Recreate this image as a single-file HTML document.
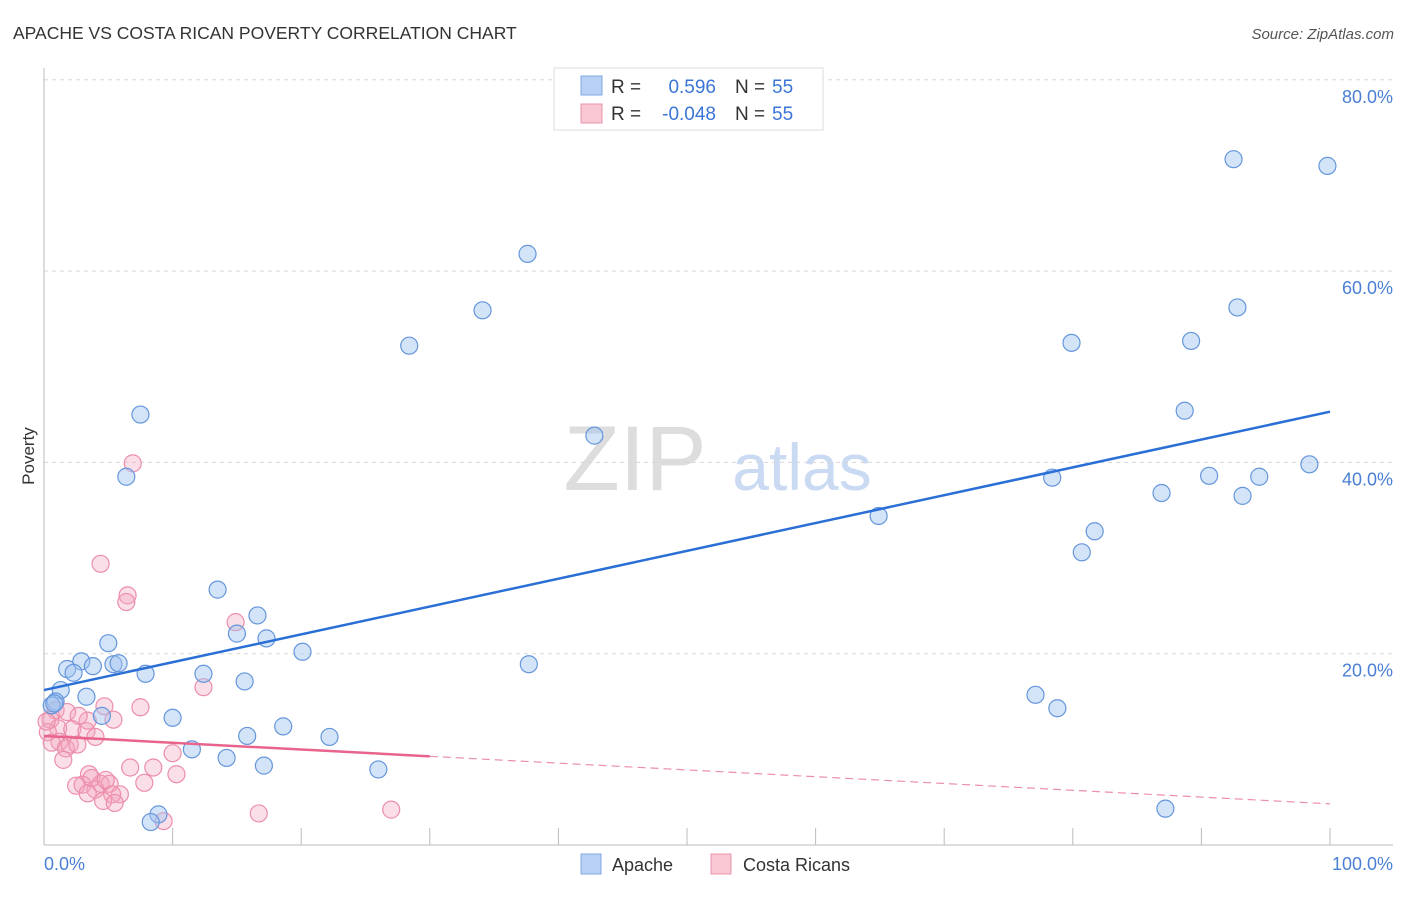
<!DOCTYPE html>
<html><head><meta charset="utf-8"><style>
body{margin:0;background:#fff;}
svg text{font-family:"Liberation Sans",sans-serif;}
</style></head><body>
<svg id="chart" width="1406" height="892" viewBox="0 0 1406 892" xmlns="http://www.w3.org/2000/svg">
<text x="13" y="39" font-size="17.5" fill="#333">APACHE VS COSTA RICAN POVERTY CORRELATION CHART</text>
<text x="1394" y="39" font-size="15" fill="#555" font-style="italic" text-anchor="end">Source: ZipAtlas.com</text>
<text x="34" y="456" font-size="17" fill="#333" transform="rotate(-90 34 456)" text-anchor="middle">Poverty</text>
<g>
<text x="635" y="490" font-size="92" fill="#ddd" font-family="Liberation Serif,serif" text-anchor="middle">ZIP</text>
<text x="802" y="490" font-size="66" fill="#c9daf2" text-anchor="middle">atlas</text>
</g>
<g id="grid"></g>
<g id="axes"></g>
<g id="pts"></g>
<g id="trends"></g>
<g>
<rect x="554" y="68" width="269" height="62" fill="#fff" stroke="#ddd"/>
<rect x="581" y="76" width="21" height="19" fill="#b7d0f3" stroke="#7ea8e3"/>
<rect x="581" y="104" width="21" height="19" fill="#f9c6d4" stroke="#eb93ad"/>
<text x="611" y="93" font-size="19" fill="#333">R =</text>
<text x="716" y="93" font-size="19" fill="#3b75d6" text-anchor="end">0.596</text>
<text x="735" y="93" font-size="19" fill="#333">N =</text>
<text x="772" y="93" font-size="19" fill="#3b75d6">55</text>
<text x="611" y="120" font-size="19" fill="#333">R =</text>
<text x="716" y="120" font-size="19" fill="#3b75d6" text-anchor="end">-0.048</text>
<text x="735" y="120" font-size="19" fill="#333">N =</text>
<text x="772" y="120" font-size="19" fill="#3b75d6">55</text>
</g>
<g>
<rect x="581" y="854" width="20" height="20" fill="#b7d0f3" stroke="#7ea8e3"/>
<text x="612" y="871" font-size="18" fill="#333">Apache</text>
<rect x="711" y="854" width="20" height="20" fill="#f9c6d4" stroke="#eb93ad"/>
<text x="743" y="871" font-size="18" fill="#333">Costa Ricans</text>
</g>
</svg>
<script>
const yTicks=[20,40,60,80];
const yTickLabels=["20.0%","40.0%","60.0%","80.0%"];
const xTicks=[10,20,30,40,50,60,70,80,90,100];
const apacheX=[7.5,6.4,13.5,16.6,15.0,17.3,5.0,2.9,1.8,2.3,3.8,5.4,5.8,7.9,20.1,12.4,15.6,1.3,3.3,0.9,0.6,0.8,4.5,10.0,18.6,11.5,15.8,22.2,14.2,17.1,26.0,8.9,8.3,28.4,34.1,37.6,42.8,37.7,64.9,78.4,79.9,80.7,81.7,86.9,88.7,89.2,90.6,92.8,92.5,93.2,94.5,98.4,99.8,77.1,78.8,87.2];
const apacheY=[45.0,38.5,26.7,24.0,22.1,21.6,21.1,19.2,18.4,18.0,18.7,18.9,19.0,17.9,20.2,17.9,17.1,16.2,15.5,15.0,14.6,14.8,13.5,13.3,12.4,10.0,11.4,11.3,9.1,8.3,7.9,3.2,2.4,52.2,55.9,61.8,42.8,18.9,34.4,38.4,52.5,30.6,32.8,36.8,45.4,52.7,38.6,56.2,71.7,36.5,38.5,39.8,71.0,15.7,14.3,3.8];
const costaX=[6.9,4.4,6.5,6.4,14.9,12.4,7.5,4.7,5.4,3.4,0.9,1.8,2.7,0.5,1.1,2.2,3.3,4.0,0.3,1.2,2.0,0.6,1.7,1.5,10.0,6.7,8.5,10.3,3.5,4.4,5.1,2.5,3.0,4.0,5.9,3.4,5.3,4.6,5.5,7.8,9.3,16.7,27.0,0.2,2.6,3.7,4.8];
const costaY=[39.9,29.4,26.1,25.4,23.3,16.5,14.4,14.5,13.1,13.0,14.1,13.9,13.5,13.1,12.2,12.1,11.9,11.3,11.8,10.8,10.5,10.7,10.1,8.9,9.6,8.1,8.1,7.4,7.4,6.4,6.4,6.2,6.3,5.8,5.3,5.4,5.3,4.6,4.4,6.5,2.5,3.3,3.7,12.9,10.5,7.0,6.8];
const apacheTrend=[16.2,45.3];
const costaTrend=[11.4,4.3];
const NS="http://www.w3.org/2000/svg";
const X=v=>44+v*12.86, Y=v=>845-v*9.565;
function mk(tag,attrs,parent){const e=document.createElementNS(NS,tag);for(const k in attrs)e.setAttribute(k,attrs[k]);parent.appendChild(e);return e;}
const grid=document.getElementById('grid'),axes=document.getElementById('axes'),pts=document.getElementById('pts'),tr=document.getElementById('trends');
yTicks.forEach((t,i)=>{
 const l=mk('line',{x1:44,x2:1393,y1:Y(t),y2:Y(t),stroke:'#d8d8d8','stroke-dasharray':'4,4'},grid);
 
 
 const tx=mk('text',{x:1393,y:Y(t)+23,'font-size':18,fill:'#4a7fd4','text-anchor':'end'},grid);
 tx.textContent=yTickLabels[i];
 
 
});
let a=mk('line',{x1:44,x2:44,y1:68,y2:845,stroke:'#bbb'},axes);


a=mk('line',{x1:44,x2:1393,y1:845,y2:845,stroke:'#bbb'},axes);


xTicks.forEach(t=>{
 const l=mk('line',{x1:X(t),x2:X(t),y1:828,y2:845,stroke:'#bbb'},axes);
 
 
});
let t0=mk('text',{x:44,y:870,'font-size':18,fill:'#4a7fd4'},axes);t0.textContent='0.0%';


t0=mk('text',{x:1393,y:870,'font-size':18,fill:'#4a7fd4','text-anchor':'end'},axes);t0.textContent='100.0%';


costaX.forEach((x,i)=>{
 const c=mk('circle',{cx:X(x),cy:Y(costaY[i]),r:8.5,fill:'rgba(244,164,188,0.35)',stroke:'#ec8eab','stroke-width':1.2},pts);
 
 
});
apacheX.forEach((x,i)=>{
 const c=mk('circle',{cx:X(x),cy:Y(apacheY[i]),r:8.5,fill:'rgba(160,196,240,0.45)',stroke:'#6596dc','stroke-width':1.2},pts);
 
 
});
let l=mk('line',{x1:X(0),y1:Y(apacheTrend[0]),x2:X(100),y2:Y(apacheTrend[1]),stroke:'#2a6fd6','stroke-width':2.5},tr);


const cy=x=>costaTrend[0]+(costaTrend[1]-costaTrend[0])*x/100;
l=mk('line',{x1:X(0),y1:Y(cy(0)),x2:X(30),y2:Y(cy(30)),stroke:'#e8648c','stroke-width':2.5},tr);


l=mk('line',{x1:X(30),y1:Y(cy(30)),x2:X(100),y2:Y(cy(100)),stroke:'#eb8fab','stroke-width':1.2,'stroke-dasharray':'8,5'},tr);


</script>
</body></html>
